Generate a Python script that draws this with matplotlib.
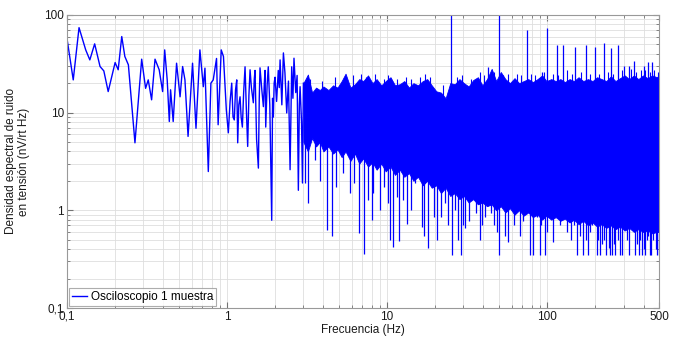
import numpy as np
import matplotlib
matplotlib.use("Agg")
import matplotlib.pyplot as plt
from matplotlib.ticker import FixedLocator, NullFormatter

plt.rcParams["font.family"] = ["Liberation Sans", "DejaVu Sans"]

# espectro a baja frecuencia (linea visible)
f_low = [0.1, 0.1095, 0.119, 0.131, 0.139, 0.149, 0.161, 0.17, 0.181, 0.2, 0.209, 0.22,
         0.23, 0.242, 0.266, 0.293, 0.31, 0.322, 0.338, 0.355, 0.377, 0.396, 0.408, 0.423,
         0.436, 0.444, 0.461, 0.484, 0.509, 0.528, 0.546, 0.571, 0.609, 0.64, 0.677, 0.711,
         0.728, 0.764, 0.793, 0.82, 0.86, 0.88, 0.92, 0.95, 0.99,
         1.019, 1.045, 1.07, 1.09, 1.11, 1.13, 1.15, 1.166, 1.185, 1.206, 1.225, 1.247, 1.27,
         1.296, 1.32, 1.346, 1.37, 1.393, 1.42, 1.46, 1.48, 1.496, 1.53, 1.57, 1.59, 1.607,
         1.65, 1.687, 1.71, 1.728, 1.745, 1.78, 1.81, 1.85, 1.902, 1.925, 1.947, 1.97, 1.995,
         2.04, 2.09, 2.12, 2.145, 2.2, 2.25, 2.3, 2.36, 2.42, 2.477, 2.535, 2.58, 2.62,
         2.687, 2.74, 2.79, 2.83, 2.86, 2.92, 2.96, 3.0]
v_low = [57.7, 21.6, 74, 43.8, 34.6, 50.5, 29.6, 26.7, 16.4, 32.5, 27.4, 60,
         37.5, 30.8, 4.9, 35.2, 17.7, 21.6, 13.5, 35.2, 27.4, 16.4, 43.8, 21.6,
         8.1, 17.1, 8.1, 32, 14.5, 29.6, 21.6, 5.7, 32, 6.9, 43.8, 18.4,
         28.5, 2.49, 20, 21.6, 35.8, 7.5, 43.8, 37.5, 10.7,
         6.2, 13, 20, 9, 8.4, 17, 21.6, 4.9, 12, 14.5, 9, 7.1, 16,
         29.4, 11, 4.5, 15, 27.4, 18, 12.6, 22, 27, 5.3, 2.7, 14, 28.7,
         17, 11.5, 20, 27, 7.1, 19, 29.4, 12, 0.79, 14, 9, 20, 23,
         13, 27, 18, 34.6, 12, 40.8, 25.6, 9.9, 21, 2.6, 29.4, 14, 36,
         16, 24, 1.6, 12, 18.4, 8, 1.9, 20]

# banda densa 3-500 Hz: envolvente superior e inferior
f_band = [3.0, 3.2, 3.4, 3.6, 3.8, 4.0, 4.3, 4.6, 4.9, 5.2, 5.5, 5.9, 6.3, 6.7, 7.1, 7.6,
          8.1, 8.6, 9.2, 9.8, 10.5, 11.2, 12, 12.8, 13.7, 14.6, 15.6, 16.7, 17.8, 19,
          20.3, 21.7, 23.2, 24.8, 26.5, 28.3, 30.2, 32.3, 34.5, 36.9, 39.4, 42.1, 45, 48,
          51.3, 54.8, 58.5, 62.5, 66.8, 71.3, 76.2, 81.4, 87, 93, 99, 106, 113, 121, 129,
          138, 147, 157, 168, 180, 192, 205, 219, 234, 250, 267, 285, 305, 325, 348, 371,
          397, 424, 453, 484, 500]
band_top = [20, 24.5, 16, 18, 17, 18.5, 17, 19, 18, 21, 25, 18, 19.5, 22, 21, 24,
            20, 22, 19, 21, 23, 19, 19.5, 21, 18, 20, 19, 21, 22, 19,
            16.5, 16, 14, 20, 19.5, 22, 20, 18.5, 21.5, 23, 19, 22, 28, 21,
            26, 22, 20, 22.5, 20, 21, 22, 20.5, 22, 24, 21, 22, 21, 22, 20.5,
            22, 21, 23, 21, 22, 21, 23, 22, 21, 23.5, 21, 22.5, 24, 22, 24, 22,
            24, 22.5, 24, 23, 24]
band_bot = [5, 4, 5.5, 4.5, 5, 4, 4.5, 3.8, 4.2, 3.5, 4, 3.2, 3.8, 3, 3.4, 2.8,
            3.1, 2.6, 3, 2.5, 2.8, 2.3, 2.6, 2.2, 2.4, 2, 2.2, 1.8, 2, 1.7,
            1.8, 1.5, 1.7, 1.4, 1.5, 1.3, 1.4, 1.2, 1.3, 1.15, 1.2, 1.1, 1.15, 1.0,
            1.1, 0.95, 1.05, 0.9, 1.0, 0.88, 0.95, 0.85, 0.9, 0.8, 0.88, 0.8, 0.85, 0.78, 0.82,
            0.75, 0.8, 0.72, 0.78, 0.7, 0.75, 0.68, 0.72, 0.66, 0.7, 0.64, 0.68, 0.62, 0.66, 0.6, 0.64,
            0.6, 0.62, 0.58, 0.6, 0.6]

# pequenos picos en el borde superior de la banda
f_tips = [3.3, 3.9, 4.7, 5.4, 6.1, 6.9, 7.4, 8.4, 9.5, 10.2, 11.6, 13.2, 14.2, 16.1, 17.3,
          18.4, 22.4, 27.3, 29.2, 33.5, 38, 40.5, 46.5, 53, 56.5, 64.6, 69, 79, 84, 96, 109,
          117, 133, 142, 162, 186, 212, 241, 258, 294, 336, 360, 385, 410, 438, 468, 492]
v_tips = [22, 21, 23, 22, 24, 25, 23, 25, 22, 24, 22, 23, 22, 23, 25,
          23, 19, 23, 24, 22, 26, 24, 26, 24, 25, 25, 24, 25, 24, 26, 25,
          24, 27, 25, 26, 25, 25, 26, 25, 27, 28, 26, 27, 27, 26, 27, 26]

# caidas hacia abajo
f_dips = [3.07, 3.22, 3.55, 3.81, 4.2, 4.5, 4.8, 5.3, 5.87, 6.2, 6.7, 7.18, 7.6, 8.04, 8.2,
          9.04, 9.6, 10.2, 10.4, 10.85, 11.5, 11.9, 12.6, 13.3, 14.1, 15, 16.5, 17, 18.1,
          19.5, 20.4, 21.6, 23.1, 24.1, 25.5, 26.6, 27.9, 28.9, 29.7, 30.8, 32.4, 36, 37.9,
          39.1, 41, 44.4, 46.3, 48.4, 50.3, 54.7, 57.1, 62, 64.6, 67.7, 71, 77.7, 81.6, 86.5,
          89.8, 92, 96.3, 99.5, 104, 109, 120, 127, 133, 140, 148, 153, 161, 168, 175, 181,
          186, 190, 197, 204, 209, 214, 220, 225, 232, 242, 248, 254, 260, 266, 278, 285, 292,
          303, 316, 323, 330, 342, 354, 363, 372, 381, 390, 400, 410, 418, 427, 438, 448, 457,
          465, 476, 486, 497]
v_dips = [1.9, 1.19, 3.3, 2.0, 0.63, 0.54, 1.74, 2.4, 1.5, 1.9, 0.58, 0.36, 1.28, 0.79, 1.5,
          1.0, 1.74, 1.2, 0.5, 0.42, 1.38, 0.48, 1.28, 0.73, 1.0, 1.9, 0.68, 0.54, 0.41,
          0.86, 0.5, 0.86, 1.19, 0.7, 0.35, 1.0, 0.5, 0.35, 0.7, 0.66, 0.77, 0.94, 0.5,
          0.7, 0.86, 0.94, 0.7, 0.6, 0.35, 0.55, 0.47, 0.7, 1.0, 0.55, 0.77, 0.35, 0.35, 0.86,
          0.35, 0.7, 0.35, 0.6, 1.0, 0.47, 0.7, 1.0, 0.6, 0.5, 0.7, 0.35, 0.55, 0.35, 0.5, 0.35,
          0.6, 0.7, 0.8, 0.35, 0.5, 0.35, 0.45, 0.5, 0.35, 0.41, 0.35, 0.35, 0.45, 0.35, 0.5, 0.35, 0.35,
          0.86, 0.5, 0.35, 0.7, 0.77, 0.35, 0.45, 0.35, 0.5, 0.35, 0.4, 0.35, 0.5, 0.55, 0.35, 0.35, 0.5,
          0.66, 0.4, 0.35, 0.35]

# picos (armonicos)
f_peaks = [25.1, 42.4, 50.1, 75.3, 92.5, 100.4, 115, 124.7, 150, 174.5, 199.5, 225, 250,
           275, 301, 325, 350, 400, 425, 450]
v_peaks = [120, 29, 120, 70, 26, 73, 49, 49, 47, 49, 47, 51, 46, 49, 30, 30, 34, 30, 33, 33]

blue = (0, 0, 1)
fig = plt.figure(figsize=(6.83, 3.38), dpi=100)
ax = fig.add_axes([0.098, 0.089, 0.867, 0.867])

lf = np.log10(f_band)
lt = np.log10(band_top)
lb = np.log10(band_bot)
ax.fill_between(f_band, band_bot, band_top, color=blue, lw=0.6, edgecolor=blue)
dip_top = 10 ** np.interp(np.log10(f_dips), lf, lb)
ax.vlines(f_dips, v_dips, dip_top * 1.05, color=blue, lw=0.9)
tip_base = 10 ** np.interp(np.log10(f_tips), lf, lt)
ax.vlines(f_tips, tip_base * 0.9, v_tips, color=blue, lw=0.8)
peak_base = 10 ** np.interp(np.log10(f_peaks), lf, lt)
ax.vlines(f_peaks, peak_base * 0.95, v_peaks, color=blue, lw=0.9)
ax.plot(f_low, v_low, color=blue, lw=1.0, label="Osciloscopio 1 muestra")

ax.set_xscale("log")
ax.set_yscale("log")
ax.set_xlim(0.1, 500)
ax.set_ylim(0.1, 100)

ax.xaxis.set_major_locator(FixedLocator([0.1, 1, 10, 100, 500]))
ax.set_xticklabels(["0,1", "1", "10", "100", "500"])
xminor = [m * 10.0 ** e for e in range(-1, 3) for m in range(2, 10) if m * 10.0 ** e < 500]
ax.xaxis.set_minor_locator(FixedLocator(xminor))
ax.xaxis.set_minor_formatter(NullFormatter())
ax.yaxis.set_major_locator(FixedLocator([0.1, 1, 10, 100]))
ax.set_yticklabels(["0,1", "1", "10", "100"])
yminor = [m * 10.0 ** e for e in range(-1, 2) for m in range(2, 10)]
ax.yaxis.set_minor_locator(FixedLocator(yminor))
ax.yaxis.set_minor_formatter(NullFormatter())

ax.grid(True, which="both", color="0.87", lw=0.6)
ax.set_axisbelow(True)
ax.tick_params(which="both", direction="in", top=True, right=True, colors="0.45",
               labelcolor="0.1", labelsize=8.5, pad=2)
ax.tick_params(which="major", length=4)
ax.tick_params(which="minor", length=2)
for s in ax.spines.values():
    s.set_color("0.6")
    s.set_linewidth(0.8)

ax.set_xlabel("Frecuencia (Hz)", fontsize=8.5, labelpad=1, color="0.1")
ax.set_ylabel("Densidad espectral de ruido\nen tensión (nV/rt Hz)", fontsize=8.5,
              labelpad=10, color="0.1", linespacing=1.1)

leg = ax.legend(loc="lower left", fontsize=8.5, frameon=True, fancybox=False,
                borderaxespad=0.15, handlelength=1.3, handletextpad=0.3, borderpad=0.25)
leg.get_frame().set_edgecolor("0.6")
leg.get_frame().set_linewidth(0.8)

fig.savefig("out.png", dpi=100)
plt.close()
